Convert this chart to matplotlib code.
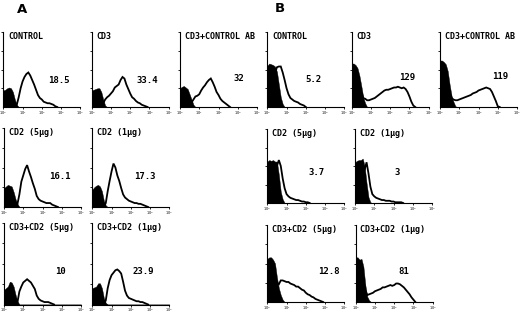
import numpy as np
import matplotlib
matplotlib.use("Agg")
import matplotlib.pyplot as plt

# ---- data (relative heights, bins of 0.1 decade starting at 10^0) ----
labels = ["CONTROL", "CD3", "CD3+CONTROL AB",
          "CD2 (5μg)", "CD2 (1μg)",
          "CD3+CD2 (5μg)", "CD3+CD2 (1μg)"]

A_numbers = ["18.5", "33.4", "32", "16.1", "17.3", "10", "23.9"]
B_numbers = ["5.2", "129", "119", "3.7", "3", "12.8", "81"]

A_fill = [
    [0.22, 0.23, 0.25, 0.26, 0.25, 0.2, 0.1, 0.03, 0],
    [0.22, 0.23, 0.24, 0.25, 0.25, 0.2, 0.1, 0.02, 0],
    [0.25, 0.27, 0.28, 0.26, 0.24, 0.17, 0.1, 0.03, 0],
    [0.24, 0.26, 0.28, 0.27, 0.26, 0.19, 0.1, 0.04, 0],
    [0.22, 0.25, 0.27, 0.28, 0.26, 0.2, 0.08, 0.02, 0],
    [0.18, 0.2, 0.22, 0.28, 0.27, 0.22, 0.12, 0.04, 0],
    [0.2, 0.21, 0.22, 0.26, 0.26, 0.2, 0.08, 0.02, 0],
]
A_open = [
    [0, 0, 0, 0, 0, 0, 0, 0.03, 0.13, 0.25, 0.34, 0.4, 0.44, 0.46, 0.42, 0.36,
     0.3, 0.23, 0.16, 0.12, 0.1, 0.07, 0.06, 0.05, 0.05, 0.04, 0.03, 0.01, 0],
    [0, 0, 0, 0, 0, 0, 0.05, 0.1, 0.13, 0.15, 0.18, 0.21, 0.26, 0.28, 0.3, 0.36,
     0.4, 0.38, 0.3, 0.24, 0.18, 0.13, 0.11, 0.08, 0.06, 0.05, 0.03, 0.02, 0.01, 0],
    [0, 0, 0, 0, 0, 0, 0.06, 0.1, 0.14, 0.15, 0.17, 0.22, 0.26, 0.29, 0.33, 0.36,
     0.38, 0.33, 0.27, 0.2, 0.16, 0.11, 0.08, 0.06, 0.04, 0.02, 0],
    [0, 0, 0, 0, 0, 0, 0, 0.04, 0.16, 0.32, 0.4, 0.48, 0.53, 0.45, 0.38, 0.3,
     0.23, 0.14, 0.1, 0.08, 0.07, 0.06, 0.05, 0.05, 0.05, 0.03, 0.02, 0.01, 0],
    [0, 0, 0, 0, 0, 0, 0, 0.05, 0.2, 0.33, 0.45, 0.55, 0.5, 0.4, 0.33, 0.24,
     0.16, 0.12, 0.1, 0.08, 0.07, 0.06, 0.05, 0.05, 0.04, 0.04, 0.03, 0.02, 0.01, 0],
    [0, 0, 0, 0, 0, 0, 0, 0.03, 0.16, 0.22, 0.27, 0.29, 0.31, 0.29, 0.27, 0.23,
     0.19, 0.11, 0.07, 0.05, 0.04, 0.03, 0.03, 0.03, 0.02, 0.01, 0],
    [0, 0, 0, 0, 0, 0, 0, 0.05, 0.2, 0.3, 0.36, 0.39, 0.42, 0.43, 0.41, 0.38,
     0.28, 0.17, 0.11, 0.08, 0.07, 0.06, 0.05, 0.04, 0.04, 0.03, 0.03, 0.02, 0.01, 0],
]

B_fill = [
    [0.55, 0.58, 0.57, 0.56, 0.54, 0.47, 0.3, 0.13, 0.04, 0],
    [0.58, 0.58, 0.56, 0.52, 0.42, 0.28, 0.13, 0.05, 0],
    [0.62, 0.62, 0.6, 0.57, 0.48, 0.3, 0.15, 0.07, 0.01, 0],
    [0.56, 0.58, 0.57, 0.58, 0.56, 0.56, 0.38, 0.15, 0.05, 0],
    [0.55, 0.57, 0.58, 0.58, 0.6, 0.5, 0.27, 0.08, 0.01, 0],
    [0.56, 0.58, 0.58, 0.55, 0.5, 0.32, 0.18, 0.09, 0.03, 0],
    [0.58, 0.58, 0.55, 0.56, 0.46, 0.22, 0.07, 0.02, 0],
]
B_open = [
    [0.4, 0.4, 0.4, 0.4, 0.45, 0.53, 0.54, 0.54, 0.46, 0.36, 0.25, 0.17, 0.12,
     0.1, 0.08, 0.07, 0.06, 0.04, 0.03, 0.02, 0],
    [0.3, 0.3, 0.3, 0.3, 0.3, 0.2, 0.12, 0.11, 0.09, 0.09, 0.1, 0.11, 0.12, 0.14,
     0.16, 0.18, 0.2, 0.22, 0.23, 0.23, 0.24, 0.25, 0.26, 0.26, 0.27, 0.26, 0.25,
     0.26, 0.24, 0.2, 0.14, 0.07, 0.02, 0],
    [0.3, 0.3, 0.3, 0.3, 0.3, 0.2, 0.12, 0.1, 0.09, 0.09, 0.1, 0.11, 0.12, 0.13,
     0.14, 0.15, 0.16, 0.18, 0.19, 0.2, 0.22, 0.23, 0.24, 0.25, 0.26, 0.25, 0.24,
     0.2, 0.14, 0.08, 0.01, 0],
    [0.4, 0.4, 0.4, 0.4, 0.45, 0.5, 0.58, 0.5, 0.33, 0.2, 0.12, 0.09, 0.07, 0.06,
     0.05, 0.04, 0.04, 0.03, 0.02, 0.02, 0.01, 0.01, 0],
    [0.4, 0.4, 0.4, 0.4, 0.45, 0.45, 0.55, 0.4, 0.22, 0.12, 0.09, 0.07, 0.06, 0.05,
     0.04, 0.04, 0.03, 0.03, 0.03, 0.02, 0.02, 0.01, 0.01, 0.01, 0.01, 0],
    [0.3, 0.3, 0.3, 0.3, 0.3, 0.25, 0.23, 0.28, 0.28, 0.27, 0.26, 0.26, 0.24, 0.23,
     0.22, 0.2, 0.2, 0.18, 0.16, 0.15, 0.12, 0.1, 0.09, 0.07, 0.06, 0.04, 0.03,
     0.02, 0.01, 0],
    [0.3, 0.3, 0.3, 0.3, 0.3, 0.15, 0.09, 0.1, 0.11, 0.12, 0.14, 0.15, 0.16, 0.17,
     0.19, 0.19, 0.2, 0.21, 0.22, 0.21, 0.22, 0.24, 0.24, 0.23, 0.21, 0.19, 0.16,
     0.13, 0.1, 0.06, 0.03, 0],
]

# number label positions (decade, relative height)
A_num_pos = [(2.87, 0.36), (2.87, 0.36), (3.04, 0.38), (2.92, 0.39), (2.74, 0.39),
             (2.92, 0.40), (2.66, 0.41)]
B_num_pos = [(2.40, 0.37), (2.87, 0.40), (3.12, 0.41), (2.57, 0.41), (2.17, 0.41),
             (3.18, 0.39), (2.48, 0.39)]

tick_labels = [r"$10^0$", r"$10^1$", r"$10^2$", r"$10^3$", r"$10^4$"]

# ---- layout (pixels) ----
W, H = 520, 316
fig = plt.figure(figsize=(W / 100, H / 100), dpi=100)
PW = 77
A_boxes = [(3.3, 32, 107), (91.7, 32, 107), (180, 32, 107),
           (4, 128, 207), (92.3, 128, 207),
           (4, 223, 304.5), (92.3, 223, 304.5)]
B_boxes = [(267.3, 32, 107), (351.7, 32, 107), (440, 32, 107),
           (267.3, 129, 203), (355, 129, 203),
           (267.3, 225, 302), (355.7, 225, 302)]

mono = dict(family="DejaVu Sans Mono", weight="bold")


def pad(v, n=41):
    a = np.zeros(n)
    a[:len(v)] = v
    return a


def draw(box, label, fillv, openv, num, npos):
    left, top, bottom = box
    ax = fig.add_axes([left / W, 1 - bottom / H, PW / W, (bottom - top) / H])
    x = np.arange(41) * 0.1
    f = pad(fillv)
    o = pad(openv)
    nz = np.nonzero(o)[0]
    i0 = max(nz[0] - 1, 0)
    i1 = min(nz[-1] + 2, 41)
    ax.plot(x[i0:i1], o[i0:i1], color="black", lw=1.3, zorder=2,
            solid_joinstyle="miter")
    ax.fill_between(x, 0, f, color="black", lw=0.3, zorder=3)
    ax.set_xlim(0, 4)
    ax.set_ylim(0, 1)
    for s in ("top", "right"):
        ax.spines[s].set_visible(False)
    for s in ("left", "bottom"):
        ax.spines[s].set_linewidth(0.8)
    ax.set_xticks(range(5))
    ax.set_xticklabels(tick_labels, fontsize=2.4)
    ax.set_yticks([0.25, 0.5, 0.75, 1.0])
    ax.set_yticklabels([])
    ax.tick_params(axis="x", length=1.5, width=0.6, pad=0.3)
    ax.tick_params(axis="y", length=1.5, width=0.6)
    ax.patch.set_alpha(0)
    ax.text(0.06, 1.0, label, transform=ax.transAxes, ha="left", va="top",
            fontsize=6, **mono)
    ax.text(npos[0], npos[1], num, ha="center", va="center", fontsize=6.5, **mono)


for i in range(7):
    draw(A_boxes[i], labels[i], A_fill[i], A_open[i], A_numbers[i], A_num_pos[i])
    draw(B_boxes[i], labels[i], B_fill[i], B_open[i], B_numbers[i], B_num_pos[i])

fig.text(22 / W, 1 - 9.5 / H, "A", fontsize=9.5, weight="bold", ha="center", va="center")
fig.text(280 / W, 1 - 9 / H, "B", fontsize=9.5, weight="bold", ha="center", va="center")

fig.savefig("out.png", dpi=100, facecolor="white")
